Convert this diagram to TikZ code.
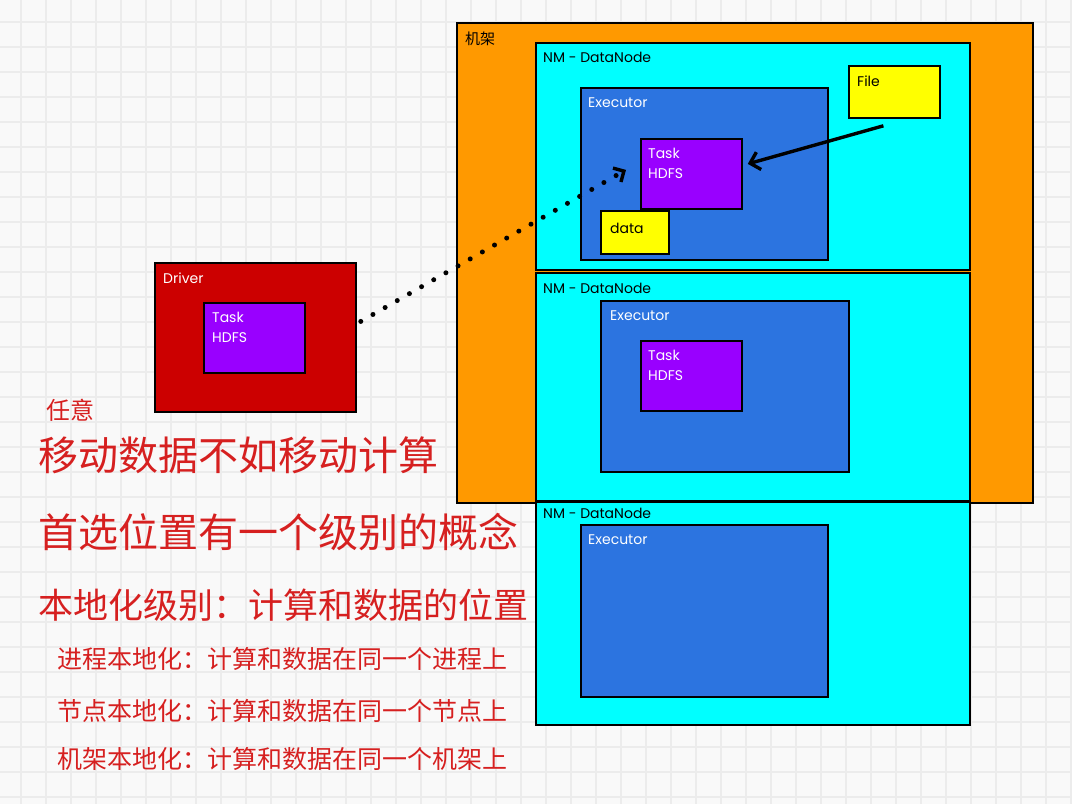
\documentclass[tikz,border=0pt]{standalone}
\usepackage{fontspec}
\setmainfont{Poppins}
\newfontfamily\cjk{Noto Sans CJK SC}
\usetikzlibrary{positioning,arrows.meta}

\definecolor{paper}{HTML}{F9F9F9}
\definecolor{gridgray}{HTML}{ECECEC}
\definecolor{rackorange}{HTML}{FF9900}
\definecolor{nodecyan}{HTML}{00FFFF}
\definecolor{execblue}{HTML}{2C74E0}
\definecolor{taskpurple}{HTML}{9900FF}
\definecolor{fileyellow}{HTML}{FFFF00}
\definecolor{driverred}{HTML}{CC0000}
\definecolor{notered}{HTML}{D62020}

\tikzset{
  box/.style={draw=black, line width=1.8pt, anchor=north west, inner sep=0pt},
  tag/.style={anchor=north west, inner sep=0pt, align=left, font=\fontsize{14}{20}\selectfont},
  note/.style={anchor=west, inner sep=0pt, text=notered},
  gridline/.style={draw=gridgray, line width=1.4pt},
}

\begin{document}
\begin{tikzpicture}[x=1pt, y=-1pt]
\useasboundingbox (0,0) rectangle (1072,804);
\fill[paper] (0,0) rectangle (1072,804);
\foreach \x in {21,46,...,1071} \draw[gridline] (\x,0) -- (\x,804);
\foreach \y in {22,47,...,797} \draw[gridline] (0,\y) -- (1072,\y);

% rack with three NM - DataNode boxes
\node[box, fill=rackorange, minimum width=576pt, minimum height=480pt] (rack) at (456,22) {};
\node[tag, font=\cjk\fontsize{15}{18}\selectfont, below right=10pt and 9pt of rack.north west] (racklbl) {机架};

\node[box, fill=nodecyan, minimum width=434pt, minimum height=227pt] (nm1) at (535,42) {};
\node[tag, below right=10pt and 8pt of nm1.north west] (nm1lbl) {NM - DataNode};
\node[box, fill=execblue, minimum width=247pt, minimum height=172pt] (exec1) at (580,87) {};
\node[tag, text=white, below right=11pt and 8pt of exec1.north west] (exec1lbl) {Executor};
\node[box, fill=taskpurple, minimum width=101pt, minimum height=70pt] (task1) at (640,138) {};
\node[tag, text=white, below right=10pt and 8pt of task1.north west] (task1lbl) {Task\\HDFS};
\node[box, fill=fileyellow, minimum width=68pt, minimum height=43pt] (data) at (600,210) {};
\node[tag, below right=13pt and 10pt of data.north west] (datalbl) {data};
\node[box, fill=fileyellow, minimum width=91pt, minimum height=52pt] (file) at (848,65) {};
\node[tag, below right=11pt and 9pt of file.north west] (filelbl) {File};

\node[box, fill=nodecyan, minimum width=434pt, minimum height=228pt] (nm2) at (535,272) {};
\node[tag, below right=11pt and 8pt of nm2.north west] (nm2lbl) {NM - DataNode};
\node[box, fill=execblue, minimum width=248pt, minimum height=171pt] (exec2) at (600,300) {};
\node[tag, text=white, below right=11pt and 10pt of exec2.north west] (exec2lbl) {Executor};
\node[box, fill=taskpurple, minimum width=101pt, minimum height=70pt] (task2) at (640,340) {};
\node[tag, text=white, below right=10pt and 8pt of task2.north west] (task2lbl) {Task\\HDFS};

\node[box, fill=nodecyan, minimum width=434pt, minimum height=223pt] (nm3) at (535,501) {};
\node[tag, below right=7pt and 8pt of nm3.north west] (nm3lbl) {NM - DataNode};
\node[box, fill=execblue, minimum width=247pt, minimum height=172pt] (exec3) at (580,524) {};
\node[tag, text=white, below right=11pt and 8pt of exec3.north west] (exec3lbl) {Executor};

% driver
\node[box, fill=driverred, minimum width=201pt, minimum height=149pt] (driver) at (154,262) {};
\node[tag, text=white, below right=11pt and 9pt of driver.north west] (driverlbl) {Driver};
\node[box, fill=taskpurple, minimum width=101pt, minimum height=70pt] (task0) at (203,302) {};
\node[tag, text=white, below right=10pt and 9pt of task0.north west] (task0lbl) {Task\\HDFS};

% connectors
\draw[line width=3.4pt, -{Straight Barb[length=9pt, width=18pt, line width=3.4pt]}]
  ([xshift=-11pt, yshift=-7pt]file.south) -- ([xshift=5pt, yshift=10pt]task1.east);
\draw[line width=5pt, line cap=round, dash pattern=on 0pt off 14pt,
      -{Straight Barb[length=8pt, width=16pt, line width=3.4pt]}]
  ([xshift=4pt, yshift=16pt]driver.east) -- ([xshift=-14pt, yshift=4pt]task1.west);

% notes
\node[note, font=\cjk\fontsize{24}{28}\selectfont] (n0) at (46,410) {任意};
\node[note, font=\cjk\fontsize{40}{46}\selectfont] (n1) at (38,455) {移动数据不如移动计算};
\node[note, font=\cjk\fontsize{40}{46}\selectfont] (n2) at (38,532) {首选位置有一个级别的概念};
\node[note, font=\cjk\fontsize{35}{40}\selectfont] (n3) at (38,605) {本地化级别：计算和数据的位置};
\node[note, font=\cjk\fontsize{25}{30}\selectfont] (n4) at (57,659) {进程本地化：计算和数据在同一个进程上};
\node[note, font=\cjk\fontsize{25}{30}\selectfont] (n5) at (57,711) {节点本地化：计算和数据在同一个节点上};
\node[note, font=\cjk\fontsize{25}{30}\selectfont] (n6) at (57,759) {机架本地化：计算和数据在同一个机架上};
\end{tikzpicture}
\end{document}
